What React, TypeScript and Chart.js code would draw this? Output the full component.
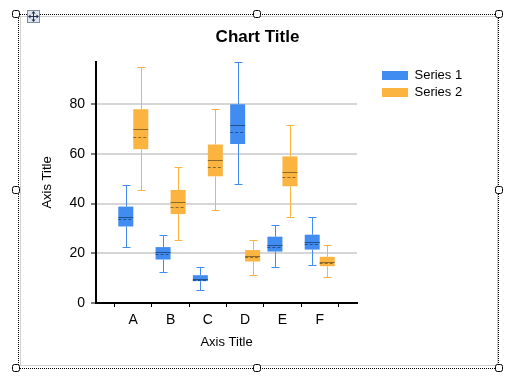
import React, { useEffect, useRef } from 'react';
import { Chart, registerables } from 'chart.js';

Chart.register(...registerables);
Chart.defaults.font.family = "'Liberation Sans', Arial, sans-serif";
Chart.defaults.color = '#000';

const categories = ['A', 'B', 'C', 'D', 'E', 'F'];
const seriesNames = ['Series 1', 'Series 2'];
const seriesColors = ['#418CF0', '#FCB441'];
const lineColors = ['#23508f', '#8f6a26'];

const s1Min = [22.5, 12.5, 5.1, 47.7, 14.4, 15.2];
const s1Q1 = [30.8, 17.5, 8.8, 64.0, 20.7, 21.5];
const s1Median = [34.6, 20.5, 9.6, 71.8, 23.3, 24.4];
const s1Mean = [33.7, 19.8, 9.4, 69.0, 22.5, 23.7];
const s1Q3 = [38.8, 22.5, 11.2, 80.0, 26.7, 27.5];
const s1Max = [47.5, 27.5, 14.4, 97.0, 31.5, 34.7];

const s2Min = [45.5, 25.3, 37.5, 11.2, 34.7, 10.4];
const s2Q1 = [61.9, 35.8, 51.0, 16.7, 47.0, 14.8];
const s2Median = [69.9, 40.8, 57.6, 19.1, 52.8, 16.7];
const s2Mean = [66.9, 38.8, 54.9, 18.5, 50.8, 15.9];
const s2Q3 = [78.0, 45.5, 63.8, 21.3, 59.0, 18.6];
const s2Max = [94.8, 54.8, 78.0, 25.3, 71.8, 23.3];

const yTicks = [0, 20, 40, 60, 80];
const yMax = 97;

const stats = [
  { min: s1Min, q1: s1Q1, median: s1Median, mean: s1Mean, q3: s1Q3, max: s1Max },
  { min: s2Min, q1: s2Q1, median: s2Median, mean: s2Mean, q3: s2Q3, max: s2Max },
];

const xLabels = ['', ...categories, ''];

function boxData(st: any) {
  return [null, ...categories.map((_, i) => [st.q1[i], st.q3[i]]), null];
}

const legendPatch = {
  id: 'legendPatch',
  beforeLayout(chart: any) {
    const lg = chart.legend;
    if (lg && !lg.__patched) {
      const orig = lg.fit.bind(lg);
      lg.fit = function () {
        orig();
        this.width = 158;
      };
      lg.__patched = true;
    }
  },
  afterLayout(chart: any) {
    const lg = chart.legend;
    if (lg) {
      const w = lg.width;
      const h = lg.height;
      lg.left = 378;
      lg.right = 378 + w;
      lg.top = 65;
      lg.bottom = 65 + h;
    }
  },
};

const boxPlugin = {
  id: 'boxWhisker',
  afterDatasetsDraw(chart: any) {
    const ctx = chart.ctx;
    const ys = chart.scales.y;
    stats.forEach((st, di) => {
      const meta = chart.getDatasetMeta(di);
      meta.data.forEach((el: any, i: number) => {
        const k = i - 1;
        if (k < 0 || k >= categories.length) return;
        const p = el.getProps(['x', 'width'], true);
        const cx = Math.round(p.x) + 0.5;
        const half = p.width / 2;
        const yMin = Math.round(ys.getPixelForValue(st.min[k])) + 0.5;
        const yQ1 = ys.getPixelForValue(st.q1[k]);
        const yQ3 = ys.getPixelForValue(st.q3[k]);
        const yMaxP = Math.round(ys.getPixelForValue(st.max[k])) + 0.5;
        const yMed = Math.round(ys.getPixelForValue(st.median[k])) + 0.5;
        const yMean = Math.round(ys.getPixelForValue(st.mean[k])) + 0.5;
        ctx.save();
        ctx.strokeStyle = seriesColors[di];
        ctx.lineWidth = 1;
        ctx.beginPath();
        ctx.moveTo(cx, yMaxP);
        ctx.lineTo(cx, yQ3);
        ctx.moveTo(cx, yQ1);
        ctx.lineTo(cx, yMin);
        ctx.moveTo(cx - 4, yMaxP);
        ctx.lineTo(cx + 4, yMaxP);
        ctx.moveTo(cx - 4, yMin);
        ctx.lineTo(cx + 4, yMin);
        ctx.stroke();
        ctx.strokeStyle = lineColors[di];
        ctx.beginPath();
        ctx.moveTo(p.x - half, yMed);
        ctx.lineTo(p.x + half, yMed);
        ctx.stroke();
        ctx.setLineDash([3, 2]);
        ctx.beginPath();
        ctx.moveTo(p.x - half, yMean);
        ctx.lineTo(p.x + half, yMean);
        ctx.stroke();
        ctx.restore();
      });
    });
  },
};

const framePlugin = {
  id: 'editorFrame',
  afterDraw(chart: any) {
    const ctx = chart.ctx;
    ctx.save();
    ctx.strokeStyle = '#cfcfcf';
    ctx.lineWidth = 1;
    ctx.strokeRect(20.5, 16.5, 477, 349);
    ctx.strokeStyle = '#000';
    ctx.setLineDash([1, 1]);
    ctx.beginPath();
    ctx.moveTo(16, 14.5);
    ctx.lineTo(499, 14.5);
    ctx.moveTo(16, 368.5);
    ctx.lineTo(499, 368.5);
    ctx.moveTo(18.5, 14);
    ctx.lineTo(18.5, 368);
    ctx.moveTo(498.5, 14);
    ctx.lineTo(498.5, 368);
    ctx.stroke();
    ctx.setLineDash([]);
    const handles = [
      [16, 14], [257, 14], [499, 14],
      [16, 190], [499, 190],
      [16, 368], [257, 368], [499, 368],
    ];
    handles.forEach(([hx, hy]) => {
      ctx.beginPath();
      ctx.roundRect(hx - 3.5, hy - 3.5, 7, 7, 2);
      ctx.fillStyle = '#fff';
      ctx.fill();
      ctx.strokeStyle = '#000';
      ctx.stroke();
    });
    // move icon
    ctx.fillStyle = '#dfe6f0';
    ctx.fillRect(27, 10, 13, 13);
    ctx.strokeStyle = '#7d8ca3';
    ctx.strokeRect(27.5, 10.5, 12, 12);
    ctx.strokeStyle = '#22324a';
    ctx.fillStyle = '#22324a';
    ctx.beginPath();
    ctx.moveTo(33.5, 12.5);
    ctx.lineTo(33.5, 20.5);
    ctx.moveTo(29.5, 16.5);
    ctx.lineTo(37.5, 16.5);
    ctx.stroke();
    const tri = (pts: number[][]) => {
      ctx.beginPath();
      ctx.moveTo(pts[0][0], pts[0][1]);
      ctx.lineTo(pts[1][0], pts[1][1]);
      ctx.lineTo(pts[2][0], pts[2][1]);
      ctx.closePath();
      ctx.fill();
    };
    tri([[33.5, 11], [31.5, 13.5], [35.5, 13.5]]);
    tri([[33.5, 22], [31.5, 19.5], [35.5, 19.5]]);
    tri([[28, 16.5], [30.5, 14.5], [30.5, 18.5]]);
    tri([[39, 16.5], [36.5, 14.5], [36.5, 18.5]]);
    ctx.restore();
  },
};

export default function App() {
  const ref = useRef<HTMLCanvasElement | null>(null);
  useEffect(() => {
    if (!ref.current) return;
    const chart = new Chart(ref.current, {
      type: 'bar',
      data: {
        labels: xLabels,
        datasets: stats.map((st, di) => ({
          label: seriesNames[di],
          data: boxData(st) as any,
          backgroundColor: seriesColors[di],
          borderWidth: 0,
          barPercentage: 1,
          categoryPercentage: 0.804,
        })),
      },
      options: {
        responsive: false,
        animation: false,
        devicePixelRatio: 1,
        layout: { padding: 0 },
        plugins: {
          title: {
            display: true,
            text: 'Chart Title',
            color: '#000',
            font: { size: 17, weight: 'bold' },
            padding: { top: 27, bottom: 14.6 },
          },
          legend: {
            display: true,
            position: 'right',
            align: 'start',
            fullSize: false,
            labels: { boxWidth: 26, boxHeight: 9, padding: 4, color: '#000', font: { size: 13 } },
          },
          tooltip: { enabled: false },
        },
        scales: {
          x: {
            type: 'category',
            offset: false,
            grid: { display: true, drawOnChartArea: false, drawTicks: true, tickLength: 4, tickColor: '#000', tickWidth: 1 },
            border: { display: true, color: '#000', width: 2 },
            ticks: { font: { size: 14 }, padding: 5, color: '#000', autoSkip: false, maxRotation: 0 },
            title: { display: true, text: 'Axis Title', color: '#000', font: { size: 13 }, padding: { top: 0, bottom: 37.2 } },
            afterFit: (s: any) => { s.height = 84; },
          },
          y: {
            type: 'linear',
            min: 0,
            max: yMax,
            ticks: { stepSize: 20, font: { size: 14 }, padding: 6, color: '#000' },
            afterBuildTicks: (s: any) => { s.ticks = yTicks.map((v) => ({ value: v })); },
            grid: { color: '#d6d6d6', lineWidth: 2, tickColor: '#000', tickLength: 5, tickWidth: 1 },
            border: { display: true, color: '#000', width: 2 },
            title: { display: true, text: 'Axis Title', color: '#000', font: { size: 13 }, padding: { top: 39.5, bottom: 0 } },
            afterFit: (s: any) => { s.width = 96; },
          },
        },
      } as any,
      plugins: [legendPatch, boxPlugin, framePlugin],
    });
    return () => chart.destroy();
  }, []);
  return (
    <div style={{ position: 'absolute', left: 0, top: 0, width: 515, height: 387, background: '#fff' }}>
      <canvas ref={ref} width={515} height={387} style={{ display: 'block' }} />
    </div>
  );
}
